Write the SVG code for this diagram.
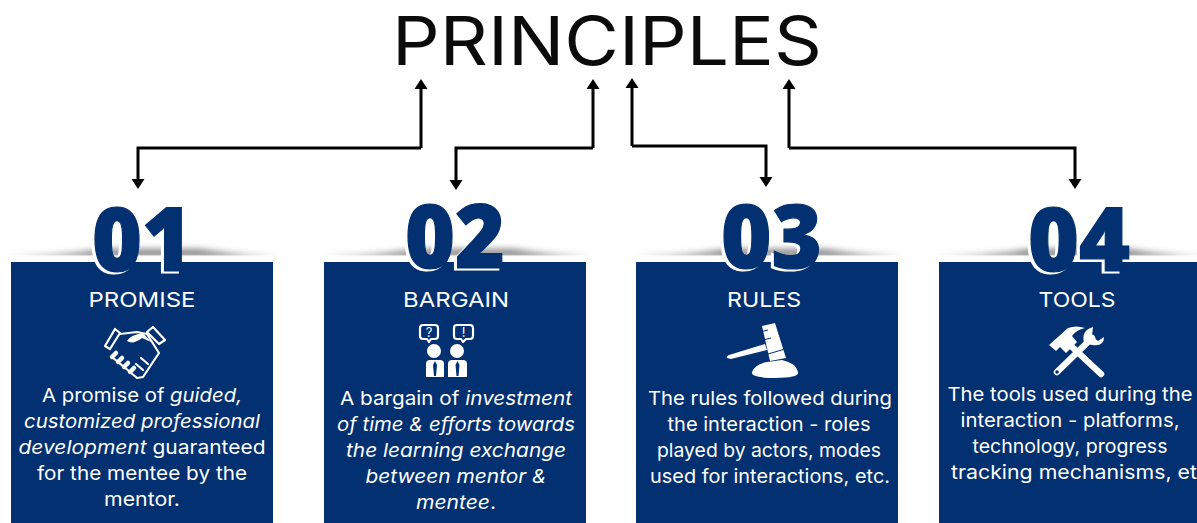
<svg xmlns="http://www.w3.org/2000/svg" width="1197" height="523" viewBox="0 0 1197 523">
<defs>
<style>
text{font-family:"Inter","Liberation Sans",sans-serif}
.title{font-size:68px;fill:#0b0b0b;font-weight:400}
.num{font-family:"Open Sans","Liberation Sans",sans-serif;font-weight:800;font-size:88px;stroke-width:1.2px}
.nw{fill:#fff;stroke:#fff}
.nb{fill:#023070;stroke:#023070}
.box{fill:#023070}
.head{font-size:20.5px;fill:#fff;text-anchor:middle}
.body{font-size:19px;fill:#fff;text-anchor:middle}
.it{font-style:italic}
.conn{fill:none;stroke:#000;stroke-width:3}
.ic{fill:#fff}
.il{fill:none;stroke:#fff;stroke-width:2.2;stroke-linejoin:round;stroke-linecap:round}
.fg{fill:none;stroke:#fff;stroke-width:4.5;stroke-linecap:round}
</style>
<marker id="ah" markerUnits="userSpaceOnUse" markerWidth="11" markerHeight="14" refX="0" refY="7" orient="auto" viewBox="0 0 11 14"><path d="M0 0.5 L10 7 L0 13.500Z" fill="#000"/></marker>
<filter id="sb" x="-10%" y="-200%" width="120%" height="500%"><feGaussianBlur stdDeviation="3"/></filter>
<path id="shade" d="M4 257 Q70 255 100 249 L200 249 Q235 255 280 257Z" fill="#8a8a8a" filter="url(#sb)"/>
</defs>
<rect width="1197" height="523" fill="#fff"/>
<text id="title" class="title" x="392" y="65" textLength="430" lengthAdjust="spacingAndGlyphs">PRINCIPLES</text>
<g id="connectors">
<path class="conn" marker-end="url(#ah)" d="M421 148V89"/>
<path class="conn" marker-end="url(#ah)" d="M421 148H138V179"/>
<path class="conn" marker-end="url(#ah)" d="M593 148V89"/>
<path class="conn" marker-end="url(#ah)" d="M593 148H456V180"/>
<path class="conn" marker-end="url(#ah)" d="M632 146V88"/>
<path class="conn" marker-end="url(#ah)" d="M632 146H766V177"/>
<path class="conn" marker-end="url(#ah)" d="M789 148V89"/>
<path class="conn" marker-end="url(#ah)" d="M789 148H1075V179"/>
</g>
<g id="node-01">
<use href="#shade"/>
<rect x="0" y="255.500" width="285" height="7" fill="#fff"/>
<rect class="box" x="11" y="262" width="262" height="261"/>
<text class="num nw" x="89" y="273" textLength="100" lengthAdjust="spacingAndGlyphs">01</text>
<text class="num nb" x="92" y="271" textLength="100" lengthAdjust="spacingAndGlyphs">01</text>
<text class="head" x="142" y="307" textLength="107" lengthAdjust="spacingAndGlyphs">PROMISE</text>
<g>
<path class="il" d="M105 346L115 329L120 333L110 349Z"/>
<path class="il" d="M147 332L153 327L165 340L159 344Z"/>
<path class="il" d="M120 334L137 332L147 334L159 353L143 377L137 378L130 372L112 357"/>
<path class="ic" d="M127 341Q130 335 143 333L151 342L142 338Q133 345 127 341Z"/>
<path class="fg" d="M112 357L116 353M118 362L122 358M124 367L128 363M130 372L134 368"/>
<path class="il" d="M141 358L148 364M136 364L143 370"/>
</g>
<text class="body" x="142" y="402" textLength="200" lengthAdjust="spacingAndGlyphs">A promise of <tspan class="it">guided,</tspan></text>
<text class="body" x="142" y="428" textLength="236" lengthAdjust="spacingAndGlyphs"><tspan class="it">customized professional</tspan></text>
<text class="body" x="142" y="454" textLength="247" lengthAdjust="spacingAndGlyphs"><tspan class="it">development</tspan> guaranteed</text>
<text class="body" x="142" y="480" textLength="210" lengthAdjust="spacingAndGlyphs">for the mentee by the</text>
<text class="body" x="142" y="506" textLength="76" lengthAdjust="spacingAndGlyphs">mentor.</text>
</g>
<g id="node-02">
<g transform="translate(313 0)"><use href="#shade"/></g>
<rect x="312" y="255.500" width="285" height="7" fill="#fff"/>
<rect class="box" x="324" y="262" width="262" height="261"/>
<text class="num nw" x="402" y="270" textLength="100" lengthAdjust="spacingAndGlyphs">02</text>
<text class="num nb" x="405" y="268" textLength="100" lengthAdjust="spacingAndGlyphs">02</text>
<text class="head" x="456" y="307" textLength="106" lengthAdjust="spacingAndGlyphs">BARGAIN</text>
<g>
<path class="il" stroke-width="1.500" d="M423 325H435Q438 325 438 328V336Q438 339 435 339H431L429 342L427 339H423Q420 339 420 336V328Q420 325 423 325Z"/>
<path class="il" stroke-width="1.500" d="M457 325H470Q473 325 473 328V336Q473 339 470 339H466L463 342L461 339H457Q454 339 454 336V328Q454 325 457 325Z"/>
<text x="429" y="337" font-size="13" fill="#fff" text-anchor="middle">?</text>
<text x="463.500" y="337" font-size="13" fill="#fff" text-anchor="middle">!</text>
<circle class="ic" cx="434" cy="351" r="7"/><circle class="ic" cx="457" cy="351" r="7"/>
<path class="ic" d="M426 377V364Q426 360 430 360H440Q444 360 444 364V377Z"/>
<path class="ic" d="M448 377V364Q448 360 452 360H463Q467 360 467 364V377Z"/>
<path d="M435 361L437 365L436 376H434L433 365Z M457.500 361L459.500 365L458.500 376H456.500L455.500 365Z" fill="#023070"/>
</g>
<text class="body" x="456" y="405" textLength="232" lengthAdjust="spacingAndGlyphs">A bargain of <tspan class="it">investment</tspan></text>
<text class="body" x="456" y="431" textLength="238" lengthAdjust="spacingAndGlyphs"><tspan class="it">of time &amp; efforts towards</tspan></text>
<text class="body" x="456" y="457" textLength="220" lengthAdjust="spacingAndGlyphs"><tspan class="it">the learning exchange</tspan></text>
<text class="body" x="456" y="483" textLength="181" lengthAdjust="spacingAndGlyphs"><tspan class="it">between mentor &amp;</tspan></text>
<text class="body" x="456" y="509" textLength="80" lengthAdjust="spacingAndGlyphs"><tspan class="it">mentee</tspan>.</text>
</g>
<g id="node-03">
<g transform="translate(625 0)"><use href="#shade"/></g>
<rect x="624" y="255.500" width="285" height="7" fill="#fff"/>
<rect class="box" x="636" y="262" width="262" height="261"/>
<text class="num nw" x="718" y="270" textLength="101" lengthAdjust="spacingAndGlyphs">03</text>
<text class="num nb" x="721" y="268" textLength="101" lengthAdjust="spacingAndGlyphs">03</text>
<text class="head" x="764" y="307" textLength="74" lengthAdjust="spacingAndGlyphs">RULES</text>
<g class="ic">
<path d="M762 326L775 323L786 358L770 361Z"/>
<path d="M727 358Q726 356 729 355L765 344L767 350L731 359Z"/>
<path d="M752 372Q755 364 767 362L782 360Q796 363 798 372Q800 378 775 378Q750 378 752 372Z"/>
</g>
<path d="M760 332L768 330M763 340L771 338M768 354L785 349" stroke="#023070" stroke-width="1" fill="none"/>
<text class="body" x="770" y="405" textLength="244" lengthAdjust="spacingAndGlyphs">The rules followed during</text>
<text class="body" x="769" y="431" textLength="203" lengthAdjust="spacingAndGlyphs">the interaction - roles</text>
<text class="body" x="769" y="457" textLength="224" lengthAdjust="spacingAndGlyphs">played by actors, modes</text>
<text class="body" x="770" y="483" textLength="240" lengthAdjust="spacingAndGlyphs">used for interactions, etc.</text>
</g>
<g id="node-04">
<g transform="translate(928 0)"><use href="#shade"/></g>
<rect x="927" y="255.500" width="270" height="7" fill="#fff"/>
<rect class="box" x="939" y="262" width="258" height="261"/>
<text class="num nw" x="1025" y="273" textLength="102" lengthAdjust="spacingAndGlyphs">04</text>
<text class="num nb" x="1028" y="271" textLength="102" lengthAdjust="spacingAndGlyphs">04</text>
<text class="head" x="1077" y="307" textLength="77" lengthAdjust="spacingAndGlyphs">TOOLS</text>
<g>
<path d="M1057 372L1092 338" stroke="#fff" stroke-width="6.500" stroke-linecap="round" fill="none"/>
<path d="M1070 345L1101 374" stroke="#fff" stroke-width="6.500" stroke-linecap="round" fill="none"/>
<path class="ic" d="M1049 345L1068 328Q1076 325 1085 328Q1076 330 1072 336L1077 342L1066 353L1060 347L1056 351Z"/>
<path class="ic" d="M1093 327Q1081 330 1084 343L1092 345Q1104 347 1104 337L1098 341L1092 336Z"/>
<circle cx="1057" cy="372" r="1.800" fill="#023070"/>
</g>
<text class="body" x="1070" y="401" textLength="245" lengthAdjust="spacingAndGlyphs">The tools used during the</text>
<text class="body" x="1070" y="427" textLength="219" lengthAdjust="spacingAndGlyphs">interaction - platforms,</text>
<text class="body" x="1070" y="453" textLength="195" lengthAdjust="spacingAndGlyphs">technology, progress</text>
<text class="body" x="1074" y="479" textLength="246" lengthAdjust="spacingAndGlyphs">tracking mechanisms, et</text>
</g>
</svg>
